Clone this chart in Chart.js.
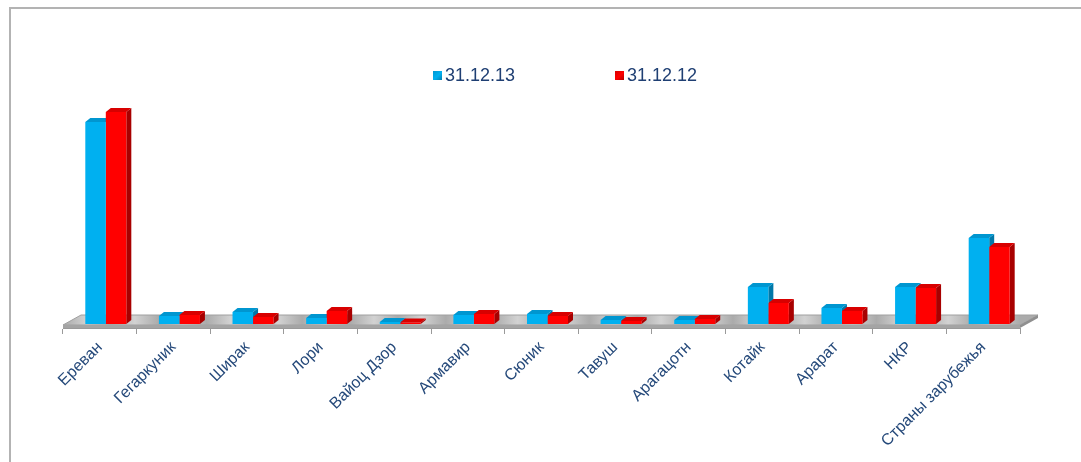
<!DOCTYPE html>
<html>
<head>
<meta charset="utf-8">
<script src="https://cdn.jsdelivr.net/npm/chart.js@4.4.1/dist/chart.umd.min.js"></script>
<style>
  html, body { margin: 0; padding: 0; background: #fff; }
  #wrap { position: relative; width: 1081px; height: 462px; overflow: hidden; }
  #frame { position: absolute; left: 9px; top: 7px; width: 1200px; height: 600px;
           border-left: 2px solid #b3b3b3; border-top: 2px solid #b3b3b3; }
  canvas { position: absolute; left: 0; top: 0; }
</style>
</head>
<body>
<div id="wrap">
  <div id="frame"></div>
  <canvas id="chart" width="1081" height="462"></canvas>
</div>
<script>
/* ---------- data (bar heights in relative units) ---------- */

const categories = [
  'Ереван', 'Гегаркуник', 'Ширак', 'Лори', 'Вайоц Дзор', 'Армавир', 'Сюник',
  'Тавуш', 'Арагацотн', 'Котайк', 'Арарат', 'НКР', 'Страны зарубежья'
];
const seriesNames = ['31.12.13', '31.12.12'];
const values2013 = [202, 8, 12, 6, 2, 9, 10, 4, 4, 37, 16, 37, 86];
const values2012 = [212, 9, 7, 13, 1.5, 10, 8, 3, 5, 21, 13, 36, 77];
const yMax = 250;

/* ---------- 3D look ---------- */

const DEPTH = { dx: 5, dy: -4 };          // depth of each bar
const SHIFT = { dx: 6, dy: -4 };          // bars stand mid-way on the floor
const FLOOR = { dx: 18, dy: -10, thick: 3 };

const bars3d = {
  id: 'bars3d',
  beforeDatasetsDraw(chart) {
    const ctx = chart.ctx, a = chart.chartArea;
    const yF = a.bottom - FLOOR.thick;

    // floor
    ctx.save();
    const g = ctx.createLinearGradient(a.left, 0, a.right, 0);
    for (let i = 0; i <= 40; i++) {
      g.addColorStop(i / 40, i % 2 ? '#d2d2d2' : '#ababab');
    }
    ctx.fillStyle = g;
    ctx.beginPath();
    ctx.moveTo(a.left, yF);
    ctx.lineTo(a.left + FLOOR.dx, yF + FLOOR.dy);
    ctx.lineTo(a.right + FLOOR.dx, yF + FLOOR.dy);
    ctx.lineTo(a.right, yF);
    ctx.closePath();
    ctx.fill();
    ctx.strokeStyle = '#a0a0a0';
    ctx.lineWidth = 1;
    ctx.stroke();
    ctx.fillStyle = '#a4a4a4';
    ctx.fillRect(a.left, yF, a.right - a.left, FLOOR.thick);
    ctx.fillStyle = '#8f8f8f';
    ctx.beginPath();
    ctx.moveTo(a.right, yF);
    ctx.lineTo(a.right + FLOOR.dx, yF + FLOOR.dy);
    ctx.lineTo(a.right + FLOOR.dx, yF + FLOOR.dy + FLOOR.thick);
    ctx.lineTo(a.right, a.bottom);
    ctx.closePath();
    ctx.fill();
    ctx.restore();

    // sides and tops, fronts are drawn by Chart.js afterwards
    ctx.save();
    ctx.translate(SHIFT.dx, SHIFT.dy);
    chart.data.datasets.forEach((ds, i) => {
      const meta = chart.getDatasetMeta(i);
      meta.data.forEach(bar => {
        const { x, y, base, width } = bar.getProps(['x', 'y', 'base', 'width'], true);
        const l = x - width / 2, r = x + width / 2;
        ctx.fillStyle = ds.sideColor;
        ctx.beginPath();
        ctx.moveTo(r, y);
        ctx.lineTo(r + DEPTH.dx, y + DEPTH.dy);
        ctx.lineTo(r + DEPTH.dx, base + DEPTH.dy);
        ctx.lineTo(r, base);
        ctx.closePath();
        ctx.fill();
        ctx.fillStyle = ds.topColor;
        ctx.beginPath();
        ctx.moveTo(l, y);
        ctx.lineTo(l + DEPTH.dx, y + DEPTH.dy);
        ctx.lineTo(r + DEPTH.dx, y + DEPTH.dy);
        ctx.lineTo(r, y);
        ctx.closePath();
        ctx.fill();
      });
    });
    // translation kept for the bar fronts, undone in afterDatasetsDraw
  },
  afterDatasetsDraw(chart) {
    chart.ctx.restore();
  },
  afterDraw(chart) {
    // legend
    const ctx = chart.ctx;
    const xs = [433, 615];
    const yc = 76;
    ctx.save();
    ctx.font = '18px "Liberation Sans", Arial, sans-serif';
    ctx.textBaseline = 'middle';
    ctx.textAlign = 'left';
    chart.data.datasets.forEach((ds, i) => {
      const x = xs[i];
      const g = ctx.createLinearGradient(x, yc - 5, x + 9, yc + 5);
      g.addColorStop(0, ds.topColor);
      g.addColorStop(0.5, ds.backgroundColor);
      g.addColorStop(1, ds.sideColor);
      ctx.fillStyle = g;
      ctx.fillRect(x, yc - 5, 9, 9);
      ctx.fillStyle = '#1F3F73';
      ctx.fillText(ds.label, x + 12, yc);
    });
    ctx.restore();
  }
};

/* ---------- chart ---------- */

new Chart(document.getElementById('chart'), {
  type: 'bar',
  data: {
    labels: categories,
    datasets: [
      {
        label: seriesNames[0],
        data: values2013,
        backgroundColor: '#00B0F0',
        topColor: '#0096d0',
        sideColor: '#0078a8',
        borderWidth: 0,
        barPercentage: 1,
        categoryPercentage: 0.557
      },
      {
        label: seriesNames[1],
        data: values2012,
        backgroundColor: '#FF0000',
        topColor: '#d80000',
        sideColor: '#a80000',
        borderWidth: 0,
        barPercentage: 1,
        categoryPercentage: 0.557
      }
    ]
  },
  options: {
    responsive: false,
    animation: false,
    layout: { padding: { left: 63, right: 61, top: 78, bottom: 0 } },
    plugins: { legend: { display: false }, tooltip: { enabled: false } },
    scales: {
      x: {
        grid: { display: true, offset: true, drawOnChartArea: false, tickLength: 6, color: '#9a9a9a' },
        border: { display: true, color: '#9a9a9a' },
        ticks: {
          autoSkip: false,
          minRotation: 45,
          maxRotation: 45,
          padding: 4,
          color: '#25497A',
          font: { family: '"Liberation Sans", Arial, sans-serif', size: 16 }
        },
        afterFit: s => { s.height = 134; }
      },
      y: { display: false, min: 0, max: yMax }
    }
  },
  plugins: [bars3d]
});
</script>
</body>
</html>
